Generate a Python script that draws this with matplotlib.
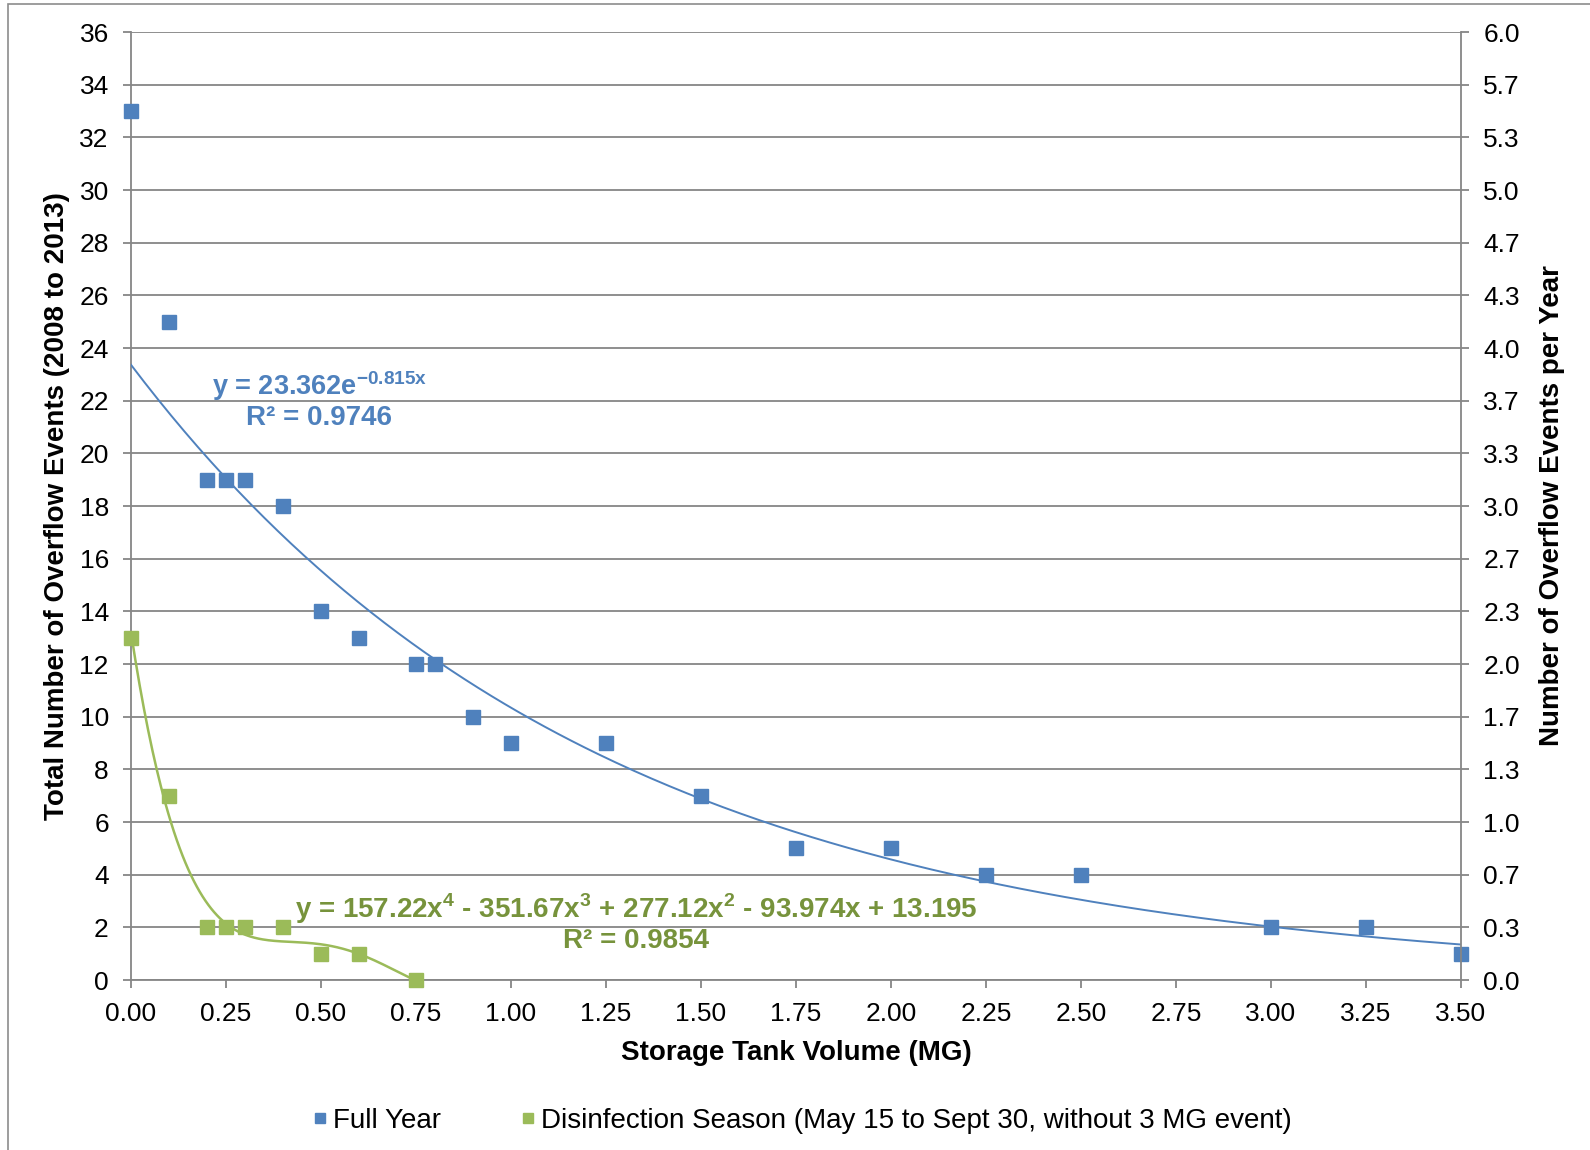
import numpy as np
import matplotlib
matplotlib.use("Agg")
import matplotlib.pyplot as plt
from matplotlib.patches import Rectangle

# data
volume_full = [0.0, 0.1, 0.2, 0.25, 0.3, 0.4, 0.5, 0.6, 0.75, 0.8, 0.9, 1.0,
               1.25, 1.5, 1.75, 2.0, 2.25, 2.5, 3.0, 3.25, 3.5]
events_full = [33, 25, 19, 19, 19, 18, 14, 13, 12, 12, 10, 9,
               9, 7, 5, 5, 4, 4, 2, 2, 1]
volume_dis = [0.0, 0.1, 0.2, 0.25, 0.3, 0.4, 0.5, 0.6, 0.75]
events_dis = [13, 7, 2, 2, 2, 2, 1, 1, 0]

# trendline coefficients as printed on the chart
exp_coef = [23.362, -0.815]
exp_r2 = 0.9746
poly_coef = [157.22, -351.67, 277.12, -93.974, 13.195]
poly_r2 = 0.9854

years = 6
blue = "#4F81BD"
green = "#9BBB59"
green_txt = "#77933C"
grid_c = "#868686"

plt.rcParams["font.family"] = ["Liberation Sans", "DejaVu Sans"]
plt.rcParams["mathtext.fontset"] = "custom"
plt.rcParams["mathtext.rm"] = "Liberation Sans"
plt.rcParams["mathtext.bf"] = "Liberation Sans:bold"

fig = plt.figure(figsize=(15.9, 11.5), dpi=100)
ax = fig.add_axes([131/1590, 1-980/1150, 1330/1590, 948/1150])

# frame around chart
fig.patches.append(Rectangle((8/1590, -0.1), 1.2, 1-4/1150+0.1, transform=fig.transFigure,
                             fill=False, edgecolor="#8c8c8c", lw=1.2))

ax.set_xlim(0, 3.5)
ax.set_ylim(0, 36)
ax.set_xticks(np.arange(0, 3.51, 0.25))
ax.set_xticklabels(["%.2f" % v for v in np.arange(0, 3.51, 0.25)])
ax.set_yticks(np.arange(0, 37, 2))
ax.yaxis.grid(True, color=grid_c, lw=1.3)
ax.set_axisbelow(True)
for s in ["top", "right"]:
    ax.spines[s].set_visible(False)
for s in ["left", "bottom"]:
    ax.spines[s].set_color(grid_c)
    ax.spines[s].set_linewidth(1.3)
ax.tick_params(axis="both", direction="out", length=6, width=1.3, color=grid_c,
               labelsize=19, pad=10)

ax2 = ax.twinx()
ax2.set_ylim(0, 36)
ax2.set_yticks(np.arange(0, 37, 2))
ax2.set_yticklabels(["%.1f" % (v / years) for v in np.arange(0, 37, 2)])
for s in ["top", "left", "bottom"]:
    ax2.spines[s].set_visible(False)
ax2.spines["right"].set_color(grid_c)
ax2.spines["right"].set_linewidth(1.3)
ax2.tick_params(axis="y", direction="out", length=6, width=1.3, color=grid_c,
                labelsize=19, pad=10)

# trendlines
xe = np.linspace(0, 3.5, 300)
ax.plot(xe, exp_coef[0] * np.exp(exp_coef[1] * xe), color=blue, lw=1.4, zorder=3)
xp = np.linspace(0, 0.75, 200)
ax.plot(xp, np.polyval(poly_coef, xp), color=green, lw=1.8, zorder=3)

ax.plot(volume_full, events_full, "s", color=blue, ms=9.5, clip_on=False, zorder=4,
        label="Full Year")
ax.plot(volume_dis, events_dis, "s", color=green, ms=9.5, clip_on=False, zorder=4,
        label="Disinfection Season (May 15 to Sept 30, without 3 MG event)")

ax.set_xlabel("Storage Tank Volume (MG)", fontsize=20, fontweight="bold", labelpad=10)
ax.set_ylabel("Total Number of Overflow Events (2008 to 2013)", fontsize=20,
              fontweight="bold", labelpad=7)
ax2.set_ylabel("Number of Overflow Events per Year", fontsize=20, fontweight="bold",
               labelpad=14)

ax.text(0.497, 22.55, "y = %.3fe$^{\\mathbf{%.3fx}}$" % (exp_coef[0], exp_coef[1]),
        color=blue, fontsize=19.5, fontweight="bold", ha="center", va="center")
ax.text(0.495, 21.35, "R² = %.4f" % exp_r2, color=blue, fontsize=20,
        fontweight="bold", ha="center", va="center")

eq = "y = %.2fx$^{\\mathbf{4}}$ - %.2fx$^{\\mathbf{3}}$ + %.2fx$^{\\mathbf{2}}$ - %.3fx + %.3f" % (
    poly_coef[0], -poly_coef[1], poly_coef[2], -poly_coef[3], poly_coef[4])
ax.text(1.33, 2.7, eq, color=green_txt, fontsize=20, fontweight="bold",
        ha="center", va="center")
ax.text(1.33, 1.5, "R² = %.4f" % poly_r2, color=green_txt, fontsize=20,
        fontweight="bold", ha="center", va="center")

ax.legend(loc="center", bbox_to_anchor=(0.505, (980 - 1121) / 948),
          bbox_transform=ax.transAxes, ncol=2, frameon=False, fontsize=20,
          handlelength=0.5, handletextpad=0.2, columnspacing=2.9, markerscale=0.8)

fig.savefig("out.png", dpi=100)
